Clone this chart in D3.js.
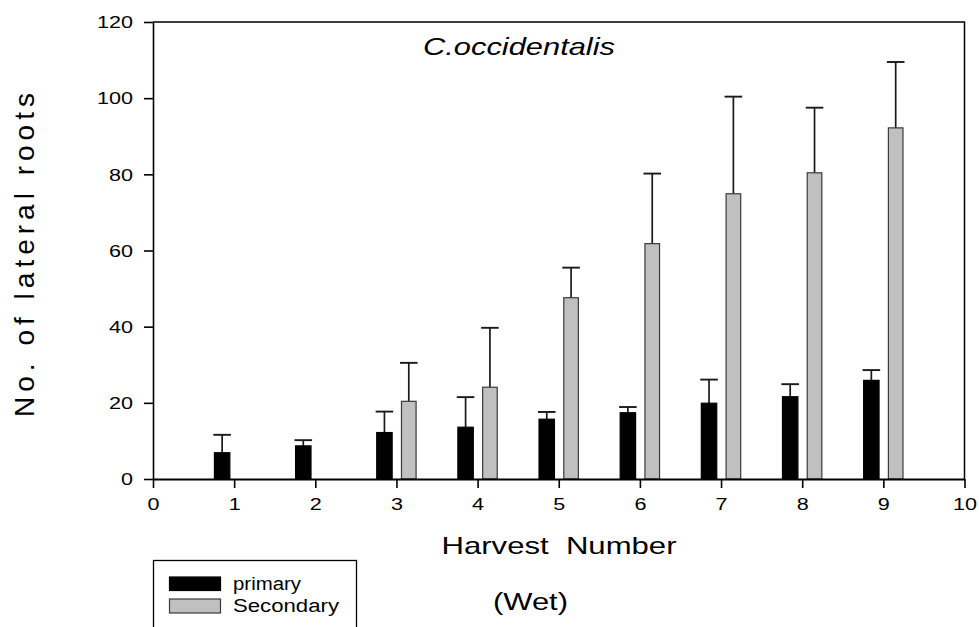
<!DOCTYPE html>
<html><head><meta charset="utf-8">
<script src="https://cdn.jsdelivr.net/npm/d3@7"></script>
<style>
html,body{margin:0;padding:0;background:#fff;}
svg{display:block;font-family:"Liberation Sans",Arial,sans-serif;}
</style></head>
<body><svg id="c" width="979" height="627"></svg>
<script>
// ---- data ----
const harvests = [1,2,3,4,5,6,7,8,9];
const primaryMean = [6.9, 8.7, 12.2, 13.6, 15.7, 17.4, 19.9, 21.6, 25.9];
const primaryErr  = [4.7, 1.5, 5.5, 7.9, 1.9, 1.5, 6.2, 3.3, 2.7];
const secondaryMean = [null, null, 20.4, 24.1, 47.6, 61.8, 74.9, 80.4, 92.2];
const secondaryErr  = [null, null, 10.1, 15.6, 7.9, 18.4, 25.5, 17.1, 17.3];
const xTicks = [0,1,2,3,4,5,6,7,8,9,10];
const yTicks = [0,20,40,60,80,100,120];
const seriesNames = ["primary","Secondary"];

// ---- layout ----
const svg = d3.select("#c");
const x = d3.scaleLinear().domain([0,10]).range([153,964.5]);
const y = d3.scaleLinear().domain([0,120]).range([479,22]);
const fills = ["#000000","#c0c0c0"];
const strokes = ["#000000","#3a3a3a"];
const offsets = [[-0.243,-0.053],[0.062,0.242]];

// frame (top & right)
svg.append("path")
  .attr("d",`M${x(0)},${y(120)}H${x(10)}V${y(0)}`)
  .attr("fill","none").attr("stroke","#000").attr("stroke-width",1.5);

const series = [
  harvests.map((h,i)=>({h, v:primaryMean[i], e:primaryErr[i]})),
  harvests.map((h,i)=>({h, v:secondaryMean[i], e:secondaryErr[i]}))
];

series.forEach((s,si)=>{
  const g = svg.append("g");
  const data = s.filter(d=>d.v!=null);
  data.forEach(d=>{
    const cx = (x(d.h+offsets[si][0]) + x(d.h+offsets[si][1]))/2;
    g.append("line").attr("x1",cx).attr("x2",cx)
      .attr("y1",y(d.v)).attr("y2",y(d.v+d.e))
      .attr("stroke","#1a1a1a").attr("stroke-width",1.7);
    g.append("line").attr("x1",cx-8.8).attr("x2",cx+8.8)
      .attr("y1",y(d.v+d.e)).attr("y2",y(d.v+d.e))
      .attr("stroke","#1a1a1a").attr("stroke-width",1.9);
  });
  g.selectAll("rect").data(data).join("rect")
    .attr("x",d=>x(d.h+offsets[si][0]))
    .attr("width",d=>x(d.h+offsets[si][1])-x(d.h+offsets[si][0]))
    .attr("y",d=>y(d.v))
    .attr("height",d=>y(0)-y(d.v))
    .attr("fill",fills[si]).attr("stroke",strokes[si]).attr("stroke-width",1.2);
});

// axes
const xAxis = svg.append("g").attr("transform",`translate(0,${y(0)})`)
  .call(d3.axisBottom(x).tickValues(xTicks).tickFormat(d3.format("d")).tickSizeInner(9).tickSizeOuter(0).tickPadding(11));
const yAxis = svg.append("g").attr("transform",`translate(${x(0)},0)`)
  .call(d3.axisLeft(y).tickValues(yTicks).tickFormat(d3.format("d")).tickSizeInner(9).tickSizeOuter(0).tickPadding(11));
xAxis.select(".domain").attr("stroke-width",2.2);
yAxis.select(".domain").attr("stroke-width",1.6);
[xAxis,yAxis].forEach(a=>{
  a.selectAll(".tick line").attr("stroke-width",1.6);
  a.selectAll(".tick text").attr("font-size",16).attr("fill","#000")
    .attr("font-family","Liberation Sans, Arial, sans-serif")
    .attr("textLength",function(){return this.textContent.length*12;})
    .attr("lengthAdjust","spacingAndGlyphs");
});
yAxis.selectAll(".tick text").attr("dy","0.36em");

// title
svg.append("text").attr("x",519).attr("y",55).attr("text-anchor","middle")
  .attr("font-size",24).attr("font-style","italic")
  .attr("textLength",192).attr("lengthAdjust","spacingAndGlyphs")
  .text("C.occidentalis");

// x label
svg.append("text").attr("x",559).attr("y",554).attr("text-anchor","middle")
  .attr("font-size",24).style("white-space","pre")
  .attr("textLength",235).attr("lengthAdjust","spacingAndGlyphs")
  .text("Harvest  Number");

svg.append("text").attr("x",530.5).attr("y",610).attr("text-anchor","middle")
  .attr("font-size",23)
  .attr("textLength",75).attr("lengthAdjust","spacingAndGlyphs")
  .text("(Wet)");

// y label
svg.append("text").attr("transform","translate(34,255) rotate(-90)")
  .attr("text-anchor","middle").attr("font-size",28)
  .attr("textLength",324).attr("lengthAdjust","spacing")
  .text("No. of lateral roots");

// legend
const lg = svg.append("g");
lg.append("rect").attr("x",153.5).attr("y",560.5).attr("width",203).attr("height",100)
  .attr("fill","#fff").attr("stroke","#000").attr("stroke-width",1.3);
seriesNames.forEach((n,i)=>{
  const yy = [577,599][i];
  lg.append("rect").attr("x",169.5).attr("y",yy).attr("width",51).attr("height",i?14:13.5)
    .attr("fill",fills[i]).attr("stroke",strokes[i]).attr("stroke-width",1.2);
  lg.append("text").attr("x",233).attr("y",[589.5,611.5][i]).attr("font-size",18)
    .attr("textLength",i?106:68).attr("lengthAdjust","spacingAndGlyphs").text(n);
});
</script></body></html>
